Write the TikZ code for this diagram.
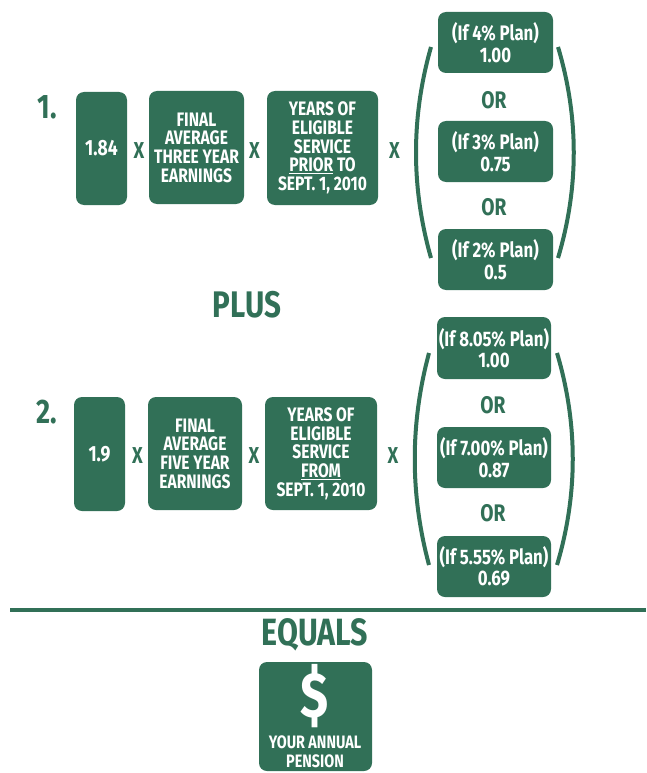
\documentclass[tikz,border=0pt]{standalone}
\usepackage{fontspec}
\setmainfont[FakeStretch=0.8]{Fira Sans}
\usetikzlibrary{positioning}
\definecolor{pensionGreen}{RGB}{49,112,87}
\tikzstyle{diagram} = [x = 1pt, y = -1pt]
\tikzstyle{termBox} = [fill=pensionGreen, rounded corners = 8pt, text=white, align=center, inner sep=0pt, font=\bfseries\fontsize{19.5}{18.7}\selectfont]
\tikzstyle{planBox} = [termBox, font=\bfseries\fontsize{21}{21.5}\selectfont]
\tikzstyle{timesSign} = [text=pensionGreen, font=\bfseries\fontsize{23}{23}\selectfont]
\tikzstyle{orText} = [text=pensionGreen, font=\bfseries\fontsize{24}{24}\selectfont]
\tikzstyle{stepNumber} = [text=pensionGreen, font=\bfseries\fontsize{34}{34}\selectfont]
\tikzstyle{bigWord} = [text=pensionGreen, font=\bfseries\fontsize{37}{37}\selectfont]
\tikzstyle{parenLine} = [draw=pensionGreen, line width=4pt]
\newcommand{\termBox}[6]{\node [termBox, minimum width={(#4-#2)*1pt}, minimum height={(#5-#3)*1pt}] (#1) at ({(#2+#4)/2},{(#3+#5)/2}) {#6};}
\newcommand{\planBox}[6]{\node [planBox, minimum width={(#4-#2)*1pt}, minimum height={(#5-#3)*1pt}] (#1) at ({(#2+#4)/2},{(#3+#5)/2}) {#6};}
\newcommand{\bracketPair}[6]{
  \draw [parenLine] (#1,#2) .. controls (#3,{#2+(#6-#2)/3}) and (#3,{#2+2*(#6-#2)/3}) .. (#1,#6);
  \draw [parenLine] (#4,#2) .. controls (#5,{#2+(#6-#2)/3}) and (#5,{#2+2*(#6-#2)/3}) .. (#4,#6);
}

\begin{document}
\begin{tikzpicture}[diagram]
  \useasboundingbox (0,0) rectangle (646,773);

  % first part
  \node [stepNumber] (oneNum) at (47,107) {1.};
  \termBox{oneFactor}{76}{92}{127}{205}{\fontsize{22}{22}\selectfont 1.84}
  \node [timesSign] (oneTimesA) at (139,151) {X};
  \termBox{oneEarnings}{149}{91}{244}{204}{FINAL\\AVERAGE\\THREE YEAR\\EARNINGS}
  \node [timesSign] (oneTimesB) at (254.5,151) {X};
  \termBox{oneService}{267}{91}{378}{205}{YEARS OF\\ELIGIBLE\\SERVICE\\\underline{PRIOR} TO\\SEPT. 1, 2010}
  \node [timesSign] (oneTimesC) at (394.5,151) {X};
  \planBox{onePlanA}{438}{12}{553}{73}{(If 4\% Plan)\\1.00}
  \node [orText] (oneOrA) at (494,100) {OR};
  \planBox{onePlanB}{438}{121}{553}{182}{(If 3\% Plan)\\0.75}
  \node [orText] (oneOrB) at (494,207) {OR};
  \planBox{onePlanC}{438}{229}{553}{290}{(If 2\% Plan)\\0.5}
  \bracketPair{431}{47}{411}{558}{579}{258}

  \node [bigWord] (plus) at (247,305) {PLUS};

  % second part
  \node [stepNumber] (twoNum) at (47,412) {2.};
  \termBox{twoFactor}{74}{397}{125}{511}{\fontsize{22}{22}\selectfont 1.9}
  \node [timesSign] (twoTimesA) at (137.5,456) {X};
  \termBox{twoEarnings}{148}{397}{242}{510}{FINAL\\AVERAGE\\FIVE YEAR\\EARNINGS}
  \node [timesSign] (twoTimesB) at (254,456) {X};
  \termBox{twoService}{265}{397}{377}{510}{YEARS OF\\ELIGIBLE\\SERVICE\\\underline{FROM}\\SEPT. 1, 2010}
  \node [timesSign] (twoTimesC) at (393,456) {X};
  \planBox{twoPlanA}{437}{317}{551}{379}{(If 8.05\% Plan)\\1.00}
  \node [orText] (twoOrA) at (493,405) {OR};
  \planBox{twoPlanB}{437}{427}{551}{488}{(If 7.00\% Plan)\\0.87}
  \node [orText] (twoOrB) at (493,513) {OR};
  \planBox{twoPlanC}{437}{536}{551}{597}{(If 5.55\% Plan)\\0.69}
  \bracketPair{429}{353}{410}{557}{578}{565}

  % result
  \draw [draw=pensionGreen, line width=4pt] (10,610) -- (646,610);
  \node [bigWord, font=\bfseries\fontsize{38}{38}\selectfont] (equals) at (315,635) {EQUALS};
  \termBox{pension}{259}{662}{372}{771}{}
  \node [text=white, inner sep=0pt, font=\bfseries\fontsize{64}{64}\selectfont] (dollar) at (315,696) {\$};
  \node [text=white, align=center, inner sep=0pt, font=\bfseries\fontsize{18}{18.5}\selectfont] (pensionText) at (315,752) {YOUR ANNUAL\\PENSION};
\end{tikzpicture}
\end{document}
